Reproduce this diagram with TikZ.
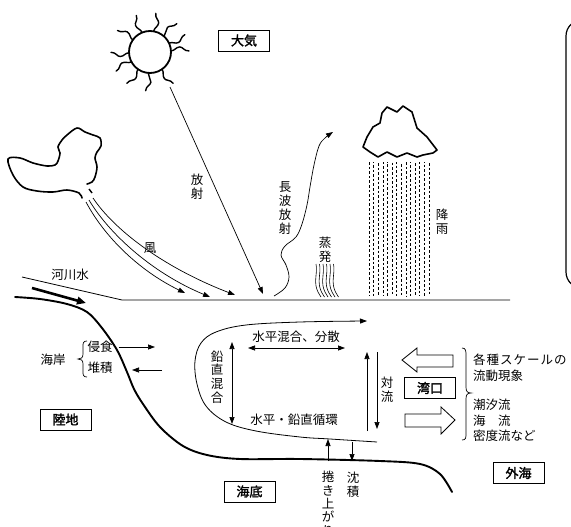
\documentclass[tikz,border=0pt]{standalone}
\usepackage{fontspec}
\setmainfont{Noto Sans CJK JP}
\newfontfamily\boldjp{Noto Sans CJK JP}[FakeBold=2]
\newfontfamily\widejp{Noto Sans CJK JP}[LetterSpace=8]
\usetikzlibrary{arrows.meta}
\begin{document}
\begin{tikzpicture}[x=1pt,y=-1pt,
  lbl/.style={inner sep=0pt, font=\fontsize{12.5}{13.5}\selectfont, align=center},
  vlbl/.style={inner sep=0pt, font=\fontsize{12.5}{13.8}\selectfont, align=center},
  boxlbl/.style={draw, line width=0.8pt, minimum width=51pt, minimum height=21pt,
    inner sep=0pt, font=\boldjp\fontsize{13}{14}\selectfont},
  fine/.style={line width=0.7pt},
  heavy/.style={line width=1.8pt, line cap=round, line join=round},
  tip/.style={fine, -{Triangle[length=7pt,width=5pt]}},
  dtip/.style={fine, {Triangle[length=7pt,width=5pt]}-{Triangle[length=7pt,width=5pt]}},
  hollow/.style={line width=0.8pt, line join=miter},
  rain/.style={line width=0.55pt, dash pattern=on 2.6pt off 2pt},
]
\useasboundingbox (0,0) rectangle (571,527);
\clip (0,0) rectangle (571,527);

% ---------- sun ----------
\coordinate (sunc) at (150,52);
\draw[heavy] (sunc) circle[radius=21];
\foreach \a/\s in {95/1,55/-1,125/1,152/-1,178/1,-145/-1,-112/1,-80/-1,-48/1,-25/-1,-3/1}{
  \begin{scope}[shift={(sunc)}, rotate=-\a]
    \draw[line width=1.4pt, line cap=round]
      (21,0) .. controls (25,0) and (26,-3.5*\s) .. (30,-3.5*\s)
             .. controls (33,-3.5*\s) and (34,1*\s) .. (39,1*\s);
  \end{scope}
}

% ---------- labels in the air ----------
\node[boxlbl] (taiki) at (244,40.5) {大気};

% ---------- left cloud (wind source) ----------
\draw[heavy, line width=1.6pt] plot[smooth, tension=0.55] coordinates {
  (82,198) (79,193) (67,190) (53,192) (37,191) (23,187) (13,175) (8,159)
  (20,158) (33,163) (47,166) (55,165) (58,161) (60,153) (58,147) (62,140)
  (67,135) (77,128) (85,132) (93,135) (100,138) (101,146) (97,152) (95,158)
  (97,167) (95,177) (92,182) (87,184)};
\draw[line width=1.4pt] (89,189) -- (92,193);

% ---------- wind ----------
\coordinate (w1) at (86,202);
\coordinate (w2) at (89,200);
\coordinate (w3) at (93,198);
\coordinate (w1e) at (185,293);
\coordinate (w2e) at (210,297);
\coordinate (w3e) at (235,295);
\draw[tip] (w1) .. controls (104,236) and (138,270) .. (w1e);
\draw[tip] (w2) .. controls (108,232) and (150,272) .. (w2e);
\draw[tip] (w3) .. controls (113,228) and (160,266) .. (w3e);
\node[lbl] (kaze) at (150,248) {風};

% ---------- solar radiation ----------
\coordinate (rad0) at (170,87);
\coordinate (rad1) at (263,294);
\draw[tip] (rad0) -- (rad1);
\node[vlbl] (housha) at (197,187) {放\\射};

% ---------- long wave radiation ----------
\draw[tip] plot[smooth, tension=0.6] coordinates {
  (274,296) (285,288) (289,277) (286,265) (281,255) (285,246) (296,237)
  (302,224) (307,205) (310,187) (314,165) (319,146) (325,138) (333,132)};
\node[vlbl] (chouha) at (285,208) {長\\波\\放\\射};

% ---------- evaporation ----------
\foreach \x in {316,319.5,323,326.5,330,333.5}{
  \draw[line width=0.6pt] (\x,264) .. controls (\x+1.5,272) and (\x-1.5,280) .. (\x,286)
      .. controls (\x+1,291) and (\x+3,294) .. (\x+5,297);
}
\node[vlbl] (jouhatsu) at (325,249.5) {蒸\\発};

% ---------- rain cloud and rain ----------
\draw[heavy, line width=1.6pt] (363,147) -- (367,137) -- (373,127) -- (380,123)
  -- (382,113) -- (387,107) -- (397,112) -- (403,106) -- (412,112) -- (417,128)
  -- (427,137) -- (437,150) -- (433,153) -- (423,155) -- (417,157) -- (407,153)
  -- (397,157) -- (387,152) -- (378,157) -- (370,152) -- cycle;
\foreach \i in {0,...,13}{
  \pgfmathsetmacro{\xx}{369+4.6*\i}
  \pgfmathsetmacro{\ph}{mod(\i*1.7,4.6)}
  \draw[rain, dash phase=\ph pt] (\xx,162) -- (\xx,296);
}
\node[vlbl] (kouu) at (442,222) {降\\雨};

% ---------- sea surface and river ----------
\coordinate (riv0) at (22,277);
\coordinate (riv1) at (122,300);
\coordinate (surfE) at (510,300);
\draw[fine, line width=0.8pt] (riv0) -- (riv1) -- (surfE);
\node[lbl] (kasen) at (70,275) {河川水};
\coordinate (ra0) at (32,288);
\coordinate (ra1) at (86,303);
\draw[line width=2.6pt, -{Triangle[length=9pt,width=7.5pt]}] (ra0) -- (ra1);

% ---------- coast line and sea floor ----------
\draw[heavy, line width=1.9pt] plot[smooth, tension=0.55] coordinates {
  (15,297) (40,299) (67,304) (87,312) (102,328) (117,350) (127,372) (134,389)
  (143,404) (160,427) (183,446) (207,455) (240,459) (300,459) (380,461)
  (420,464) (440,474) (452,492)};

% ---------- coast: erosion / deposition ----------
\node[lbl] (kaigan) at (53,360) {海岸};
\draw[fine] (87,341) .. controls (83,341) and (83,343) .. (83,347)
  -- (83,354) .. controls (83,358) and (81,359) .. (78,359)
  .. controls (81,359) and (83,360) .. (83,364) -- (83,371)
  .. controls (83,375) and (83,377) .. (87,377);
\node[lbl] (shinshoku) at (100,347) {侵食};
\node[lbl] (taiseki) at (100,368) {堆積};
\coordinate (er1) at (155,347);
\coordinate (de0) at (162,370);
\coordinate (de1) at (132,370);
\draw[tip] (shinshoku.east) ++(6,0) -- (er1);
\draw[tip] (de0) -- (de1);
\node[boxlbl] (rikuchi) at (65.5,419.5) {陸地};

% ---------- circulation in the bay ----------
\coordinate (loopS) at (377,442);
\coordinate (loopE) at (367,321);
\draw[tip, line width=0.8pt] plot[smooth, tension=0.6] coordinates {
  (377,442) (330,439) (300,437) (256,431) (226,422) (206,406) (197,384)
  (195,361) (201,343) (216,332) (246,325) (300,322) (367,321)};
\node[lbl] (suihei) at (296,337) {水平混合、分散};
\coordinate (sh0) at (248,348);
\coordinate (sh1) at (345,348);
\draw[dtip] (sh0) -- (sh1);
\coordinate (ev0) at (232,342);
\coordinate (ev1) at (232,424);
\draw[dtip] (ev0) -- (ev1);
\node[vlbl] (enchoku) at (217,377) {鉛\\直\\混\\合};
\node[lbl] (junkan) at (294,420) {水平・鉛直循環};

% ---------- convection ----------
\coordinate (cu0) at (367,431);
\coordinate (cu1) at (367,352);
\coordinate (cd0) at (377,352);
\coordinate (cd1) at (377,429);
\draw[tip] (cu0) -- (cu1);
\draw[tip] (cd0) -- (cd1);
\node[vlbl] (tairyu) at (387,390) {対\\流};

% ---------- resuspension / settling ----------
\coordinate (mu0) at (328,461);
\coordinate (mu1) at (328,439);
\coordinate (md0) at (352,442);
\coordinate (md1) at (352,461);
\draw[tip] (mu0) -- (mu1);
\draw[tip] (md0) -- (md1);
\node[vlbl, anchor=north, font=\fontsize{12.5}{13.4}\selectfont] (makiage) at (328,471) {捲\\き\\上\\が\\り};
\node[vlbl] (chinseki) at (353,485) {沈\\積};
\node[boxlbl] (kaitei) at (249.5,491.5) {海底};

% ---------- bay mouth exchange ----------
\node[boxlbl] (wanko) at (430,388) {湾口};
\draw[hollow] (402,360) -- (417,348) -- (417,355) -- (453,355) -- (453,367)
  -- (417,367) -- (417,372) -- cycle;
\draw[hollow] (405,414) -- (441,414) -- (441,407) -- (455,420) -- (441,434)
  -- (441,427) -- (405,427) -- cycle;
\draw[fine] (462,348) .. controls (466,348) and (466,351) .. (466,356)
  -- (466,387) .. controls (466,391) and (467,393) .. (471,393)
  .. controls (467,393) and (466,395) .. (466,399)
  -- (466,433) .. controls (466,438) and (466,440) .. (462,440);
\begin{scope}[every node/.style={lbl, anchor=west}]
  \node[font=\widejp\fontsize{12.5}{13.5}\selectfont] (kakushu) at (473,360) {各種スケールの};
  \node (ryudou) at (473,376) {流動現象};
  \node (choseki) at (473,405) {潮汐流};
  \node (kairyu) at (473,421) {海　流};
  \node (mitsudo) at (473,436) {密度流など};
\end{scope}
\node[boxlbl] (gaikai) at (518.5,473) {外海};

% ---------- framed panel at the right edge ----------
\draw[line width=1.2pt, rounded corners=16pt] (566,20) rectangle (620,288);
\end{tikzpicture}
\end{document}
